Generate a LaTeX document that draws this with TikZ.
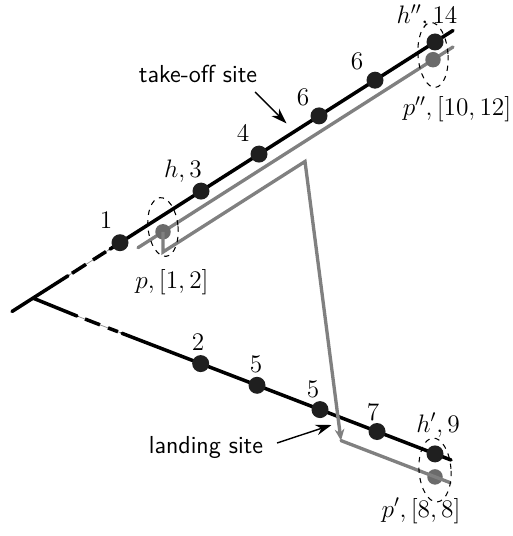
\documentclass[tikz,border=0pt]{standalone}
\usetikzlibrary{arrows.meta,shapes.geometric,calc}
\begin{document}
\begin{tikzpicture}[x=0.02cm,y=-0.02cm,
  blk/.style={line width=2pt, black, line cap=round},
  thinln/.style={line width=0.4pt, black!45},
  gry/.style={line width=1.9pt, black!50, line cap=round},
  hdot/.style={circle, fill=black!88, inner sep=0pt, minimum size=0.34cm},
  pdot/.style={circle, fill=black!58, inner sep=0pt, minimum size=0.31cm},
  lab/.style={font=\fontsize{14}{16}\selectfont, inner sep=0pt, anchor=base},
  ell/.style={draw, dashed, ellipse, line width=0.6pt, inner sep=0pt},
  ptr/.style={line width=0.8pt, -{Stealth[length=9pt, width=6pt]}}
]
\useasboundingbox (0,0) rectangle (512,536);
% upper line
\coordinate (UL) at (12,311.5);
\coordinate (B) at (33,298.1);
\coordinate (Ua) at (68,275.8);
\coordinate (Ub) at (72,273.3);
\coordinate (Uc) at (86,264.3);
\coordinate (Ud) at (93,259.9);
\coordinate (Ue) at (106,251.6);
\coordinate (Uf) at (110,249.1);
\coordinate (UE) at (453,30.5);
\draw[thinln] (Ua) -- (Uf);
\draw[blk] (UL) -- (Ua);
\draw[blk, line cap=butt] (Ub) -- (Uc);
\draw[blk, line cap=butt] (Ud) -- (Ue);
\draw[blk] (Uf) -- (UE);
% lower line
\coordinate (La) at (77,316.0);
\coordinate (Lb) at (85,319.0);
\coordinate (Lc) at (100,324.8);
\coordinate (Ld) at (108,327.9);
\coordinate (Le) at (118,331.7);
\coordinate (Lf) at (122,333.3);
\coordinate (LE) at (451,460);
\draw[thinln] (La) -- (Lf);
\draw[blk] (B) -- (La);
\draw[blk, line cap=butt] (Lb) -- (Lc);
\draw[blk, line cap=butt] (Ld) -- (Le);
\draw[blk] (Lf) -- (LE);
% gray paths
\coordinate (G1) at (138,247.7);
\coordinate (G2) at (453,47.0);
\draw[gry] (G1) -- (G2);
\coordinate (P1) at (163,252);
\coordinate (P2) at (305,161.5);
\coordinate (P3) at (341,440.6);
\coordinate (G3) at (450,482.6);
\node[pdot] (p) at (163,231.8) {};
\node[pdot] (pii) at (433,59.7) {};
\node[pdot] (pi) at (435,476.9) {};
\draw[gry, line cap=butt, -{Stealth[length=6.5pt, width=5.5pt]}] (p.center) -- (P1) -- (P2) -- (P3);
\draw[gry] (P3) -- (G3);
% upper dots
\node[hdot] (u1) at (120,242.7) {};
\node[hdot] (u2) at (201,191.1) {};
\node[hdot] (u3) at (259,154.1) {};
\node[hdot] (u4) at (319,115.9) {};
\node[hdot] (u5) at (375,80.2) {};
\node[hdot] (u6) at (435,42.0) {};
% lower dots
\node[hdot] (l1) at (200.7,363.6) {};
\node[hdot] (l2) at (257,385.3) {};
\node[hdot] (l3) at (320,409.6) {};
\node[hdot] (l4) at (377,431.5) {};
\node[hdot] (l5) at (435,453.9) {};
% ellipses
\node[ell, minimum width=0.6cm, minimum height=1.18cm, rotate=6] (e1) at (163,227) {};
\node[ell, minimum width=0.6cm, minimum height=1.3cm, rotate=4] (e2) at (433,55) {};
\node[ell, minimum width=0.64cm, minimum height=1.28cm, rotate=4] (e3) at (435,470) {};
% labels
\node[lab] (t1) at (106,229) {$1$};
\node[lab] (t2) at (183,178) {$h,3$};
\node[lab] (t3) at (243,142) {$4$};
\node[lab] (t4) at (303,106) {$6$};
\node[lab] (t5) at (357,70) {$6$};
\node[lab] (t6) at (427,24) {$h'',14$};
\node[lab] (t7) at (457,116) {$p'',[10,12]$};
\node[lab] (t8) at (172,288) {$p,[1,2]$};
\node[lab] (t9) at (198,350) {$2$};
\node[lab] (t10) at (256,372) {$5$};
\node[lab] (t11) at (313,397) {$5$};
\node[lab] (t12) at (373,420) {$7$};
\node[lab] (t13) at (438,432) {$h',9$};
\node[lab] (t14) at (421,517) {$p',[8,8]$};
\node[lab, font=\fontsize{14}{16}\selectfont\sffamily] (take) at (198,83) {take-off site};
\node[lab, font=\fontsize{14}{16}\selectfont\sffamily] (land) at (206,453) {landing site};
\coordinate (ta1) at (255,92);
\coordinate (ta2) at (286.5,123.5);
\coordinate (la1) at (277,443);
\coordinate (la2) at (331.5,425);
\draw[ptr] (ta1) -- (ta2);
\draw[ptr] (la1) -- (la2);
\end{tikzpicture}
\end{document}
